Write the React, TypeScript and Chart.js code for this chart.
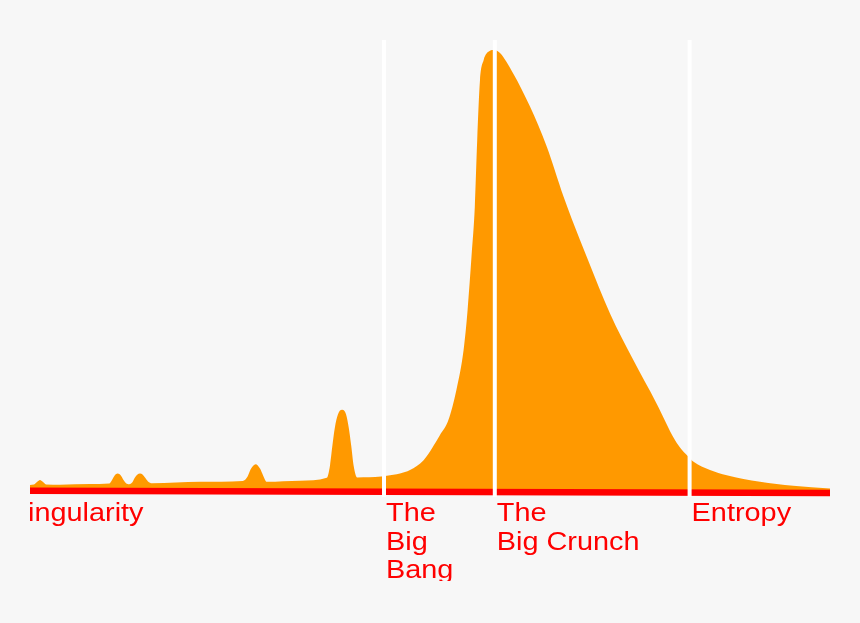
import React, { useEffect, useRef } from "react";
import { Chart, registerables } from "chart.js";

Chart.register(...registerables);

// Time axis (0..100) and relative "size" (0..100)
const curveX = [0, 0.5, 0.9, 1.25, 1.6, 2.0, 3.75, 7.5, 9.9, 10.25, 10.56, 10.96, 11.38, 11.69, 12.0, 12.4, 12.8, 13.1, 13.4, 13.75, 14.1, 14.4, 14.75, 15.25, 21.25, 26.6, 27.2, 27.6, 28.2, 28.75, 29.15, 29.6, 33.75, 37.1, 37.5, 37.8, 38.1, 38.5, 39.0, 39.5, 39.85, 40.15, 40.45, 40.9, 43.9, 44.6, 46.25, 47.5, 49.2, 51.25, 52.3, 53.3, 54.2, 54.7, 55.2, 55.6, 55.9, 56.25, 56.7, 57.5, 58.0, 58.75, 60.4, 62.5, 64.6, 66.7, 68.75, 69.75, 72.5, 75.4, 78.3, 80.6, 81.5, 82.25, 82.9, 85.0, 87.1, 91.25, 95.4, 100];
const curveY = [1.6, 1.7, 2.3, 2.7, 2.3, 1.7, 1.65, 1.8, 1.9, 2.7, 3.7, 4.2, 3.7, 2.7, 2.0, 1.75, 2.2, 3.2, 3.9, 4.2, 3.9, 3.2, 2.4, 2.0, 2.3, 2.5, 3.5, 5.2, 6.3, 5.3, 3.7, 2.3, 2.55, 3.2, 6.0, 10.5, 14.5, 17.6, 18.6, 17.6, 14.5, 10.5, 6.0, 3.3, 3.5, 3.7, 4.2, 5.0, 7.2, 12.9, 16.3, 23.1, 32.1, 41.2, 53.6, 64.5, 79.6, 93.2, 97.7, 99.8, 100, 99.3, 94.7, 87.2, 78.1, 66.8, 57.0, 52.5, 40.4, 29.9, 20.1, 11.8, 9.5, 8.1, 6.9, 5.0, 3.8, 2.3, 1.4, 0.8];

const baseX = [0, 100];
const baseY = [0.3, -0.23];

const eventX = [-2.9, 44.25, 58.1, 82.45];
const eventLabels = [["Singularity"], ["The", "Big", "Bang"], ["The", "Big Crunch"], ["Entropy"]];

const Y_MIN = -1.13;
const Y_MAX = 102.26;

const labelPlugin = {
  id: "eventLabels",
  afterDraw(chart: any) {
    const { ctx, chartArea, scales } = chart;
    ctx.save();
    ctx.beginPath();
    ctx.rect(chartArea.left, 0, chartArea.right - chartArea.left, chartArea.bottom + 84);
    ctx.clip();
    ctx.fillStyle = "#ff0000";
    ctx.font = "26px 'Liberation Sans', Arial, sans-serif";
    ctx.textBaseline = "alphabetic";
    ctx.textAlign = "left";
    eventX.forEach((ex, i) => {
      const px = scales.x.getPixelForValue(ex);
      eventLabels[i].forEach((line, j) => {
        ctx.save();
        ctx.translate(px + 2, chartArea.bottom + 24 + j * 28.5);
        ctx.scale(1.11, 1);
        ctx.fillText(line, 0, 0);
        ctx.restore();
      });
    });
    ctx.restore();
  },
};

export default function App() {
  const ref = useRef<HTMLCanvasElement | null>(null);
  useEffect(() => {
    if (!ref.current) return;
    const lineSets = eventX.map((ex) => ({
      type: "line" as const,
      data: [
        { x: ex, y: Y_MIN },
        { x: ex, y: Y_MAX },
      ],
      borderColor: "#ffffff",
      borderWidth: 4,
      pointRadius: 0,
      fill: false,
      order: 0,
    }));
    const chart = new Chart(ref.current, {
      type: "line",
      data: {
        datasets: [
          ...lineSets,
          {
            data: baseX.map((x, i) => ({ x, y: baseY[i] })),
            borderColor: "#ff0000",
            borderWidth: 6.5,
            pointRadius: 0,
            fill: false,
            order: 1,
          },
          {
            data: curveX.map((x, i) => ({ x, y: curveY[i] })),
            borderWidth: 0,
            borderColor: "#ff9900",
            backgroundColor: "#ff9900",
            pointRadius: 0,
            fill: "origin",
            cubicInterpolationMode: "monotone",
            order: 2,
          },
        ] as any,
      },
      options: {
        animation: false,
        responsive: false,
        events: [],
        layout: { padding: { left: 30, right: 30, top: 40, bottom: 126 } },
        plugins: { legend: { display: false }, tooltip: { enabled: false } },
        scales: {
          x: { type: "linear", min: 0, max: 100, display: false },
          y: { type: "linear", min: Y_MIN, max: Y_MAX, display: false },
        },
      },
      plugins: [labelPlugin],
    });
    return () => chart.destroy();
  }, []);
  return (
    <div style={{ position: "fixed", left: 0, top: 0, width: 860, height: 623, background: "#f7f7f7" }}>
      <canvas ref={ref} width={860} height={623} style={{ display: "block" }} />
    </div>
  );
}
